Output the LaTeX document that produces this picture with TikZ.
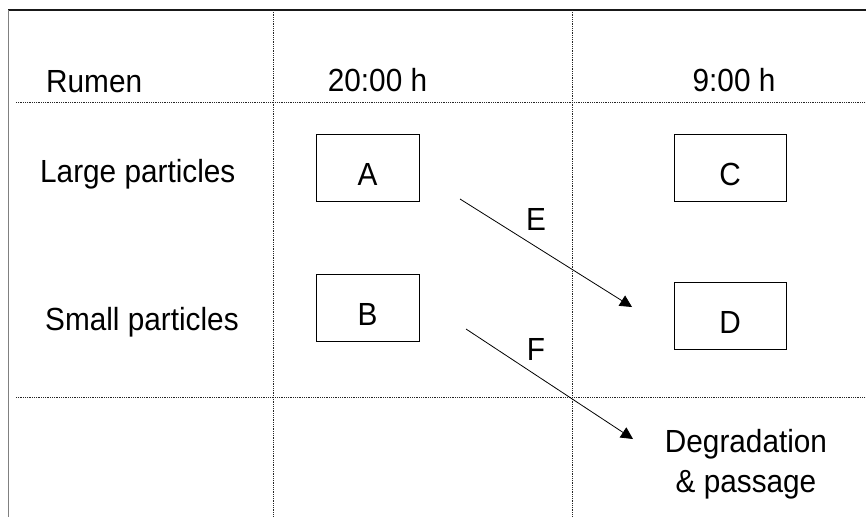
\documentclass[tikz,border=0pt]{standalone}
\usepackage{fontspec}
\setmainfont{Liberation Sans}[FakeStretch=0.93]
\usetikzlibrary{arrows.meta}

\tikzset{
  gridline/.style={line width=0.8pt, black!85, dash pattern=on 1pt off 0.8pt},
  frameline/.style={line width=1.6pt},
  label text/.style={inner sep=0pt, font=\fontsize{32}{40}\selectfont},
  boxnode/.style={draw, line width=1pt, minimum height=67pt, inner sep=0pt,
                  text height=35pt, text depth=0pt, font=\fontsize{32}{40}\selectfont},
  narrowbox/.style={boxnode, minimum width=103pt},
  widebox/.style={boxnode, minimum width=112pt},
  flow/.style={line width=0.8pt, -{Triangle[length=12pt, width=12pt]}},
}

\begin{document}
\begin{tikzpicture}[x=1pt, y=-1pt]
  \useasboundingbox (0,0) rectangle (866,517);

  % outer frame: top rule and grey left rule
  \draw[frameline, black!90] (8,10) -- (866,10);
  \draw[frameline, black!50] (8.5,10) -- (8.5,517);

  % table grid
  \draw[gridline] (16,102) -- (866,102);
  \draw[gridline] (16,397) -- (866,397);
  \draw[gridline] (273,10) -- (273,517);
  \draw[gridline] (572,10) -- (572,517);

  % headings
  \node[label text, anchor=base west] (rumen) at (46,92) {Rumen};
  \node[label text, anchor=base] (t20) at (377.5,91) {20:00 h};
  \node[label text, anchor=base] (t9) at (734,91) {9:00 h};
  \node[label text, anchor=base west] (large) at (40,182) {Large particles};
  \node[label text, anchor=base west] (small) at (45,330) {Small particles};

  % particle pools
  \node[narrowbox] (A) at (367.5,167.5) {A};
  \node[narrowbox] (B) at (367.5,307.5) {B};
  \node[widebox] (C) at (730,167.5) {C};
  \node[widebox] (D) at (730,315.5) {D};

  \node[label text, anchor=north, align=center] (deg) at (746,429.5)
    {Degradation\\\& passage};

  % transfers
  \coordinate (eStart) at (460,199);
  \coordinate (eEnd) at (632,307);
  \coordinate (fStart) at (466,329);
  \coordinate (fEnd) at (633,439);
  \draw[flow] (eStart) -- (eEnd);
  \draw[flow] (fStart) -- (fEnd);
  \node[label text, anchor=base] (E) at (536,230) {E};
  \node[label text, anchor=base] (F) at (536,360) {F};
\end{tikzpicture}
\end{document}
